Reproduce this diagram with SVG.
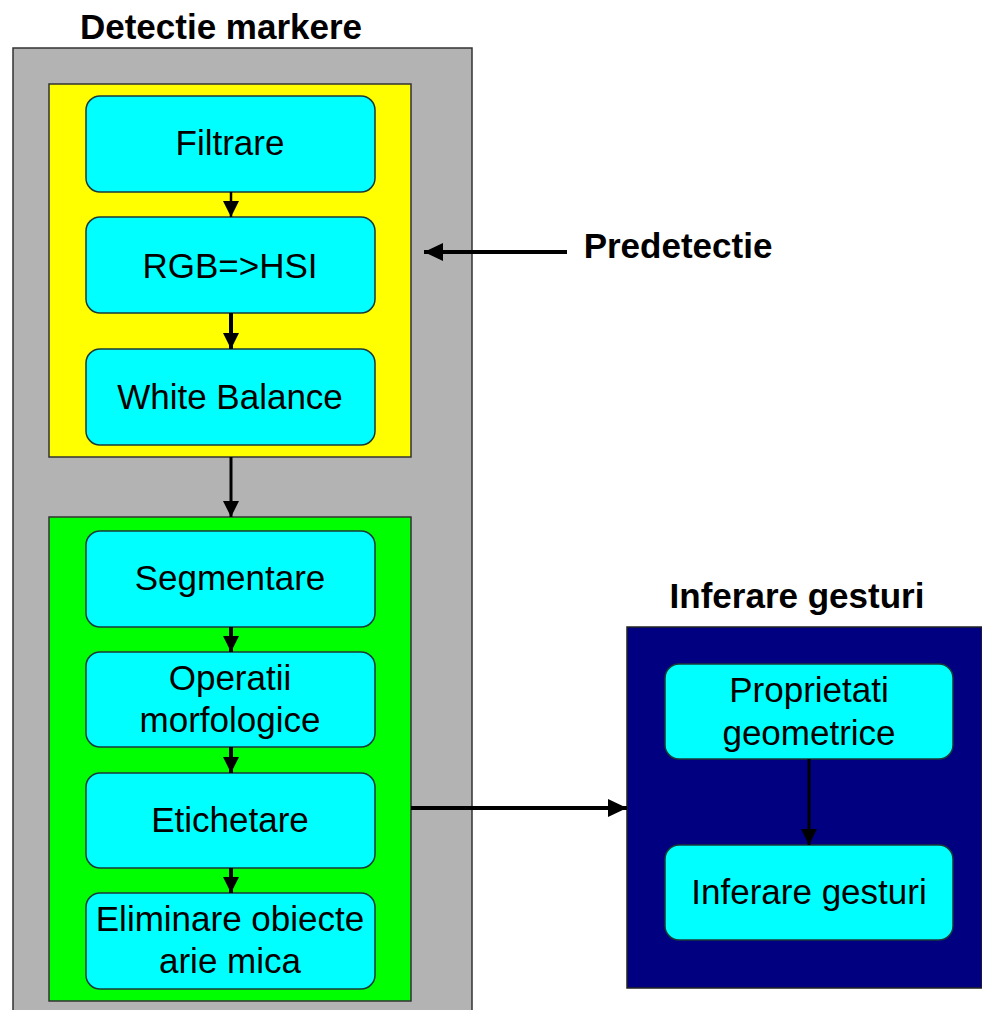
<svg xmlns="http://www.w3.org/2000/svg" width="982" height="1010" viewBox="0 0 982 1010">
<style>
.node rect{fill:#00FFFF;stroke:#1a3a3a;stroke-width:1.5}
.node text, .lbl{font-family:"Liberation Sans",Arial,sans-serif;font-size:35px;fill:#000;text-anchor:middle}
.hdr{font-family:"Liberation Sans",Arial,sans-serif;font-size:35px;font-weight:bold;fill:#000;text-anchor:middle}
.con{stroke:#000;fill:none}
</style>
<defs>
<marker id="ah" markerUnits="userSpaceOnUse" markerWidth="16" markerHeight="16" refX="16" refY="8" orient="auto" viewBox="0 0 16 16">
<path d="M0,0 L16,8 L0,16 z" fill="#000"/>
</marker>
<marker id="ahL" markerUnits="userSpaceOnUse" markerWidth="19" markerHeight="18" refX="19" refY="9" orient="auto" viewBox="0 0 19 18">
<path d="M0,0 L19,9 L0,18 z" fill="#000"/>
</marker>
</defs>

<g id="detectie-markere">
<rect x="13" y="48" width="459" height="975" fill="#B3B3B3" stroke="#333" stroke-width="1.5"/>
<text class="hdr" x="221" y="39">Detectie markere</text>
</g>

<g id="predetectie-group">
<rect x="49" y="84" width="362" height="373" fill="#FFFF00" stroke="#333" stroke-width="1.5"/>
</g>

<g id="segmentare-group">
<rect x="49" y="517" width="362" height="484" fill="#00FF00" stroke="#333" stroke-width="1.5"/>
</g>

<g id="inferare-group">
<rect x="627" y="627" width="355" height="361" fill="#000080" stroke="#222" stroke-width="1.5"/>
<text class="hdr" x="797" y="608">Inferare gesturi</text>
</g>

<g id="predetectie-label">
<text class="hdr" x="678" y="258">Predetectie</text>
</g>

<g id="filtrare" class="node">
<rect x="86" y="96" width="289" height="96" rx="14"/>
<text x="230" y="155">Filtrare</text>
</g>
<g id="rgb-hsi" class="node">
<rect x="86" y="217" width="289" height="96" rx="14"/>
<text x="230" y="278">RGB=&gt;HSI</text>
</g>
<g id="white-balance" class="node">
<rect x="86" y="349" width="289" height="96" rx="14"/>
<text x="230" y="409">White Balance</text>
</g>
<g id="segmentare" class="node">
<rect x="86" y="531" width="289" height="96" rx="14"/>
<text x="230" y="590">Segmentare</text>
</g>
<g id="operatii" class="node">
<rect x="86" y="652" width="289" height="95" rx="14"/>
<text x="230" y="690">Operatii</text>
<text x="230" y="732">morfologice</text>
</g>
<g id="etichetare" class="node">
<rect x="86" y="773" width="289" height="95" rx="14"/>
<text x="230" y="832">Etichetare</text>
</g>
<g id="eliminare" class="node">
<rect x="86" y="893" width="289" height="96" rx="14"/>
<text x="230" y="931">Eliminare obiecte</text>
<text x="230" y="973">arie mica</text>
</g>
<g id="proprietati" class="node">
<rect x="665" y="664" width="288" height="95" rx="14"/>
<text x="809" y="702">Proprietati</text>
<text x="809" y="745">geometrice</text>
</g>
<g id="inferare" class="node">
<rect x="665" y="845" width="288" height="95" rx="14"/>
<text x="809" y="904">Inferare gesturi</text>
</g>

<g id="connectors">
<line class="con" x1="231" y1="192" x2="231" y2="217" stroke-width="2.5" marker-end="url(#ah)"/>
<line class="con" x1="231" y1="313" x2="231" y2="349" stroke-width="4" marker-end="url(#ah)"/>
<line class="con" x1="231" y1="457" x2="231" y2="517" stroke-width="3" marker-end="url(#ah)"/>
<line class="con" x1="231" y1="627" x2="231" y2="652" stroke-width="4" marker-end="url(#ah)"/>
<line class="con" x1="231" y1="747" x2="231" y2="773" stroke-width="4" marker-end="url(#ah)"/>
<line class="con" x1="231" y1="868" x2="231" y2="893" stroke-width="4" marker-end="url(#ah)"/>
<line class="con" x1="809" y1="759" x2="809" y2="845" stroke-width="3" marker-end="url(#ah)"/>
<line class="con" x1="411" y1="808" x2="627" y2="808" stroke-width="4" marker-end="url(#ahL)"/>
<line class="con" x1="567" y1="252" x2="424" y2="252" stroke-width="4" marker-end="url(#ahL)"/>
</g>
</svg>
